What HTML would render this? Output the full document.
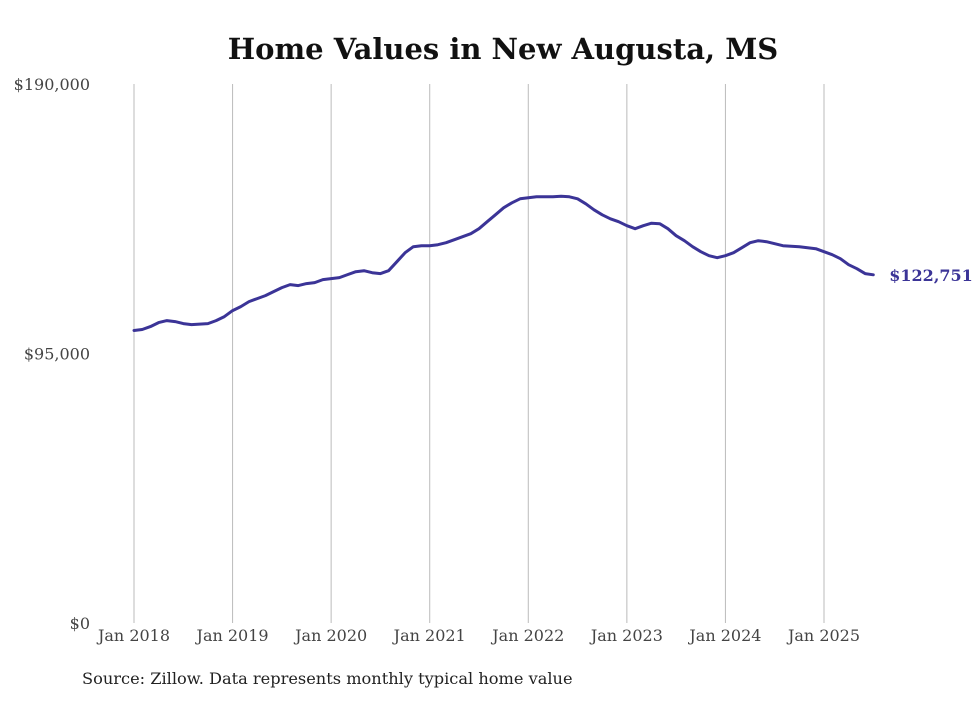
<!DOCTYPE html>
<html><head><meta charset="utf-8"><style>
body{margin:0;background:#fff;}
svg text{font-family:"DejaVu Serif","Liberation Serif",serif;}
</style></head><body>
<svg id="chart" width="980" height="699" xmlns="http://www.w3.org/2000/svg">
<text x="503" y="59" text-anchor="middle" font-size="29" font-weight="bold" fill="#111">Home Values in New Augusta, MS</text>
<g id="grid"></g><g id="yaxis"></g><g id="xaxis"></g><g id="series"></g>
<text x="82" y="684" font-size="16.2" fill="#222">Source: Zillow. Data represents monthly typical home value</text>
</svg>
<script>
const yTicks=[0,95000,190000];
const yTickLabels=["$0","$95,000","$190,000"];
const xYears=[2018,2019,2020,2021,2022,2023,2024,2025];
const xTickLabels=["Jan 2018","Jan 2019","Jan 2020","Jan 2021","Jan 2022","Jan 2023","Jan 2024","Jan 2025"];
const values=[103092,103444,104499,105907,106611,106259,105555,105203,105379,105555,106611,108018,
110129,111536,113296,114351,115407,116814,118222,119277,118925,119629,119981,121036,
121388,121740,122796,123851,124203,123499,123148,124203,127370,130537,132648,133000,
133000,133351,134055,135110,136166,137222,138981,141444,143907,146370,148130,149537,
149889,150241,150241,150241,150416,150241,149537,147778,145667,143907,142499,141444,
140037,138981,140037,140917,140740,138981,136518,134758,132648,130888,129481,128777,
129481,130537,132296,134055,134758,134407,133703,133000,132824,132648,132296,131944,
130888,129833,128425,126314,124907,123148,122751];
const lastLabel="$122,751";
const NS="http://www.w3.org/2000/svg";
const x=m=>134+m*(824-134)/84;
const y=v=>623-v*(623-84)/190000;
function el(t,a,p){const e=document.createElementNS(NS,t);for(const k in a)e.setAttribute(k,a[k]);document.getElementById(p).appendChild(e);return e;}
xYears.forEach((yr,i)=>{const m=(yr-2018)*12;
const g=el('line',{x1:x(m),x2:x(m),y1:84,y2:623,stroke:'#bbb','stroke-width':1},'grid');


const t=el('text',{x:x(m),y:641,'text-anchor':'middle','font-size':16,fill:'#444'},'xaxis');t.textContent=xTickLabels[i];

});
yTicks.forEach((v,i)=>{const t=el('text',{x:90,y:y(v)+6,'text-anchor':'end','font-size':16,fill:'#444'},'yaxis');t.textContent=yTickLabels[i];

});
const d=values.map((v,i)=>(i?'L':'M')+x(i).toFixed(1)+','+y(v).toFixed(1)).join('');
const p=el('path',{d:d,fill:'none',stroke:'#3b3497','stroke-width':3,'stroke-linejoin':'round','stroke-linecap':'round'},'series');


const n=values.length-1;
const lt=el('text',{x:x(n)+16,y:y(values[n])+6,'font-size':16,'font-weight':'bold',fill:'#3b3497'},'series');lt.textContent=lastLabel;


</script>
</body></html>
